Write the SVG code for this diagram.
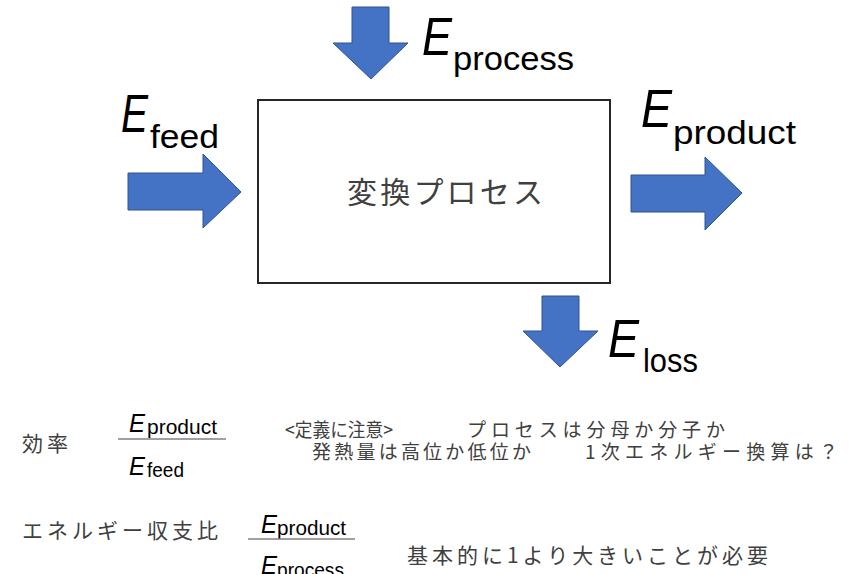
<svg xmlns="http://www.w3.org/2000/svg" width="851" height="574" viewBox="0 0 851 574">
<style>
.arrow{fill:#4472C4;stroke:#2F528F;stroke-width:1}
.E{font-family:"Liberation Sans",Arial,sans-serif;font-style:italic;fill:#000}
.sub{font-family:"Liberation Sans",Arial,sans-serif;fill:#000}
.jp{font-family:"Noto Sans CJK JP","Noto Sans CJK SC",sans-serif;fill:#404040}
.frac{stroke:#808080;stroke-width:1.5}
</style>
<rect width="851" height="574" fill="#fff"/>
<g id="connectors">
<polygon class="arrow" points="352,7 389,7 389,43 408,43 371,79 333,43 352,43"/>
<polygon class="arrow" points="128,173 203,173 203,154 241,192 203,228 203,210 128,210"/>
<polygon class="arrow" points="631,175 705,175 705,157 742,193 705,230 705,212 631,212"/>
<polygon class="arrow" points="542,296 579,296 579,331 598,331 560,367 523,331 542,331"/>
</g>
<g id="process-box">
<rect x="258" y="100" width="352" height="183" fill="#fff" stroke="#262626" stroke-width="2"/>
<text class="jp" x="347" y="203" font-size="30" textLength="196" lengthAdjust="spacing" fill="#333">変換プロセス</text>
</g>
<g id="label-process">
<text class="E" x="422" y="55" font-size="53" textLength="30" lengthAdjust="spacingAndGlyphs">E</text>
<text class="sub" x="453" y="70" font-size="34" textLength="121" lengthAdjust="spacingAndGlyphs">process</text>
</g>
<g id="label-feed">
<text class="E" x="121" y="132" font-size="53" textLength="27" lengthAdjust="spacingAndGlyphs">E</text>
<text class="sub" x="150" y="148" font-size="34" textLength="69" lengthAdjust="spacingAndGlyphs">feed</text>
</g>
<g id="label-product">
<text class="E" x="641" y="127" font-size="53" textLength="31" lengthAdjust="spacingAndGlyphs">E</text>
<text class="sub" x="673" y="144" font-size="34" textLength="123" lengthAdjust="spacingAndGlyphs">product</text>
</g>
<g id="label-loss">
<text class="E" x="608" y="357" font-size="53" textLength="31" lengthAdjust="spacingAndGlyphs">E</text>
<text class="sub" x="643" y="372" font-size="34" textLength="55" lengthAdjust="spacingAndGlyphs">loss</text>
</g>
<g id="efficiency">
<text class="jp" x="22" y="451" font-size="21" textLength="46">効率</text>
<text class="E" x="129" y="432" font-size="26" textLength="16" lengthAdjust="spacingAndGlyphs">E</text>
<text class="sub" x="147" y="434" font-size="20" textLength="70" lengthAdjust="spacingAndGlyphs">product</text>
<line class="frac" x1="118" y1="439" x2="226" y2="439"/>
<text class="E" x="129" y="475" font-size="26" textLength="16" lengthAdjust="spacingAndGlyphs">E</text>
<text class="sub" x="147" y="477" font-size="20" textLength="37" lengthAdjust="spacingAndGlyphs">feed</text>
<text class="jp" font-size="19"><tspan x="285" y="437" textLength="108" lengthAdjust="spacingAndGlyphs">&lt;定義に注意&gt;</tspan><tspan x="467" y="437" textLength="258">プロセスは分母か分子か</tspan></text>
<text class="jp" font-size="19"><tspan x="312" y="459" textLength="219">発熱量は高位か低位か</tspan><tspan x="585" y="459" textLength="253">1次エネルギー換算は？</tspan></text>
</g>
<g id="energy-ratio">
<text class="jp" x="22" y="538" font-size="21" textLength="196">エネルギー収支比</text>
<text class="E" x="261" y="533" font-size="26" textLength="16" lengthAdjust="spacingAndGlyphs">E</text>
<text class="sub" x="277" y="535" font-size="20" textLength="69" lengthAdjust="spacingAndGlyphs">product</text>
<line class="frac" x1="248" y1="539" x2="355" y2="539"/>
<text class="E" x="261" y="574" font-size="26" textLength="16" lengthAdjust="spacingAndGlyphs">E</text>
<text class="sub" x="277" y="577" font-size="20" textLength="67" lengthAdjust="spacingAndGlyphs">process</text>
<text class="jp" x="407" y="563" font-size="21" textLength="361">基本的に1より大きいことが必要</text>
</g>
</svg>
